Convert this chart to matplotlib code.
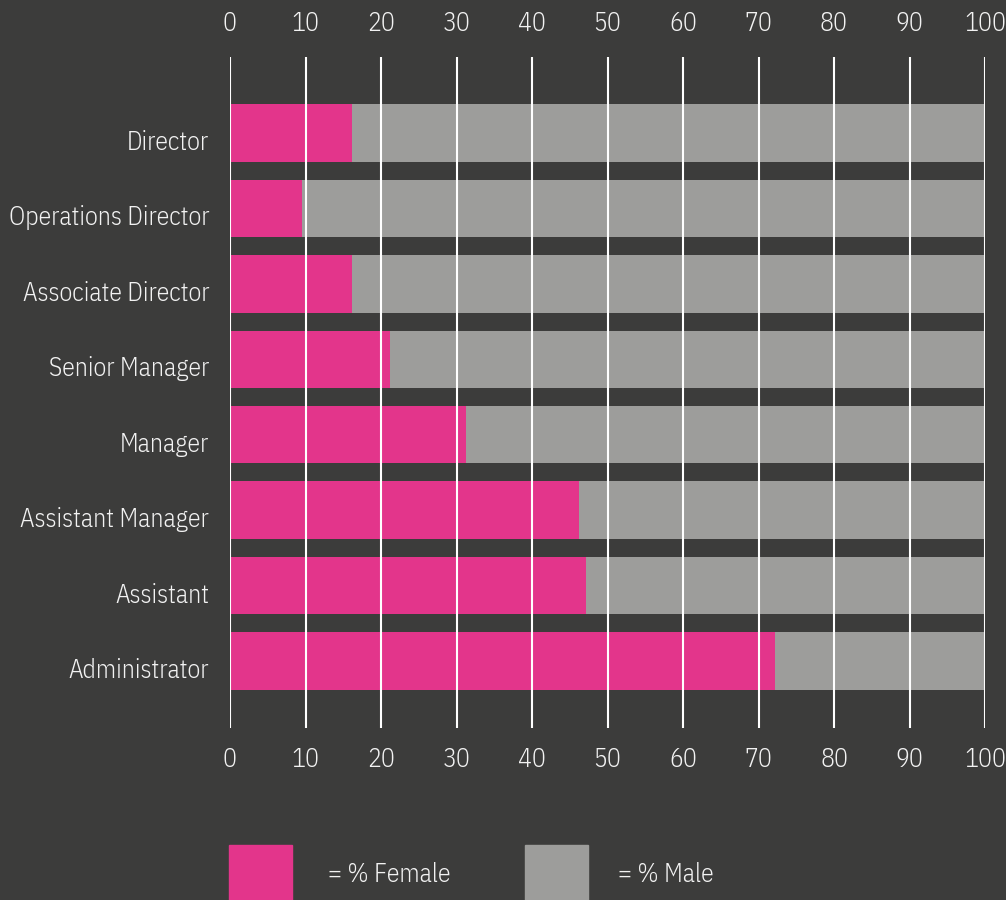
import matplotlib
matplotlib.use('Agg')
import matplotlib.pyplot as plt
from matplotlib.patches import Rectangle
from matplotlib.transforms import ScaledTranslation
import numpy as np

# data
roles = ['Director', 'Operations Director', 'Associate Director', 'Senior Manager',
         'Manager', 'Assistant Manager', 'Assistant', 'Administrator']
female = [16.2, 9.5, 16.2, 21.2, 31.3, 46.2, 47.2, 72.2]
male = [83.8, 90.5, 83.8, 79.3, 68.7, 53.8, 52.8, 27.8]
ticks = [0, 10, 20, 30, 40, 50, 60, 70, 80, 90, 100]

BG = '#3c3c3b'; PINK = '#e3358b'; GREY = '#9d9d9b'; TXT = '#f2f2f2'
plt.rcParams['font.family'] = ['IBM Plex Sans Condensed', 'DejaVu Sans']
plt.rcParams['font.weight'] = 300
FS = 18.5

fig = plt.figure(figsize=(10.06, 9), dpi=100, facecolor=BG)
W, H = 1006, 900
ax = fig.add_axes([230/W, 1-728/H, 755/W, 671/H], facecolor=BG)

y = np.arange(len(roles))
ax.barh(y, female, height=0.76, color=PINK, zorder=2)
ax.barh(y, male, left=female, height=0.76, color=GREY, zorder=1)
for t in ticks:
    ax.axvline(t, color='white', lw=1.5, zorder=3)

ax.set_xlim(0, 100)
ax.set_ylim(7.889, -1.008)
ax.set_yticks(y)
ax.set_yticklabels(roles, fontsize=FS, color=TXT)
ax.set_xticks(ticks)
ax.set_xticklabels([str(t) for t in ticks], fontsize=FS, color=TXT)
ax.tick_params(axis='both', length=0)
ax.tick_params(axis='x', pad=14)
ax.tick_params(axis='y', pad=15)
for s in ax.spines.values():
    s.set_visible(False)

# role labels sit a little below the bar centres
shift = ScaledTranslation(0, -7/100, fig.dpi_scale_trans)
for tk in ax.yaxis.get_major_ticks():
    tk.label1.set_transform(tk.label1.get_transform() + shift)

top = ax.secondary_xaxis('top')
top.set_xticks(ticks)
top.set_xticklabels([str(t) for t in ticks], fontsize=FS, color=TXT)
top.tick_params(length=0, pad=15)
for s in top.spines.values():
    s.set_visible(False)

# legend
fig.add_artist(Rectangle((229/W, 1-908/H), 63/W, 63/H, transform=fig.transFigure,
                         color=PINK))
fig.add_artist(Rectangle((525/W, 1-908/H), 63/W, 63/H, transform=fig.transFigure,
                         color=GREY))
fig.text(328/W, 1-875/H, '= % Female', fontsize=FS, color=TXT, va='center')
fig.text(618/W, 1-875/H, '= % Male', fontsize=FS, color=TXT, va='center')

fig.savefig('out.png', dpi=100, facecolor=BG)
